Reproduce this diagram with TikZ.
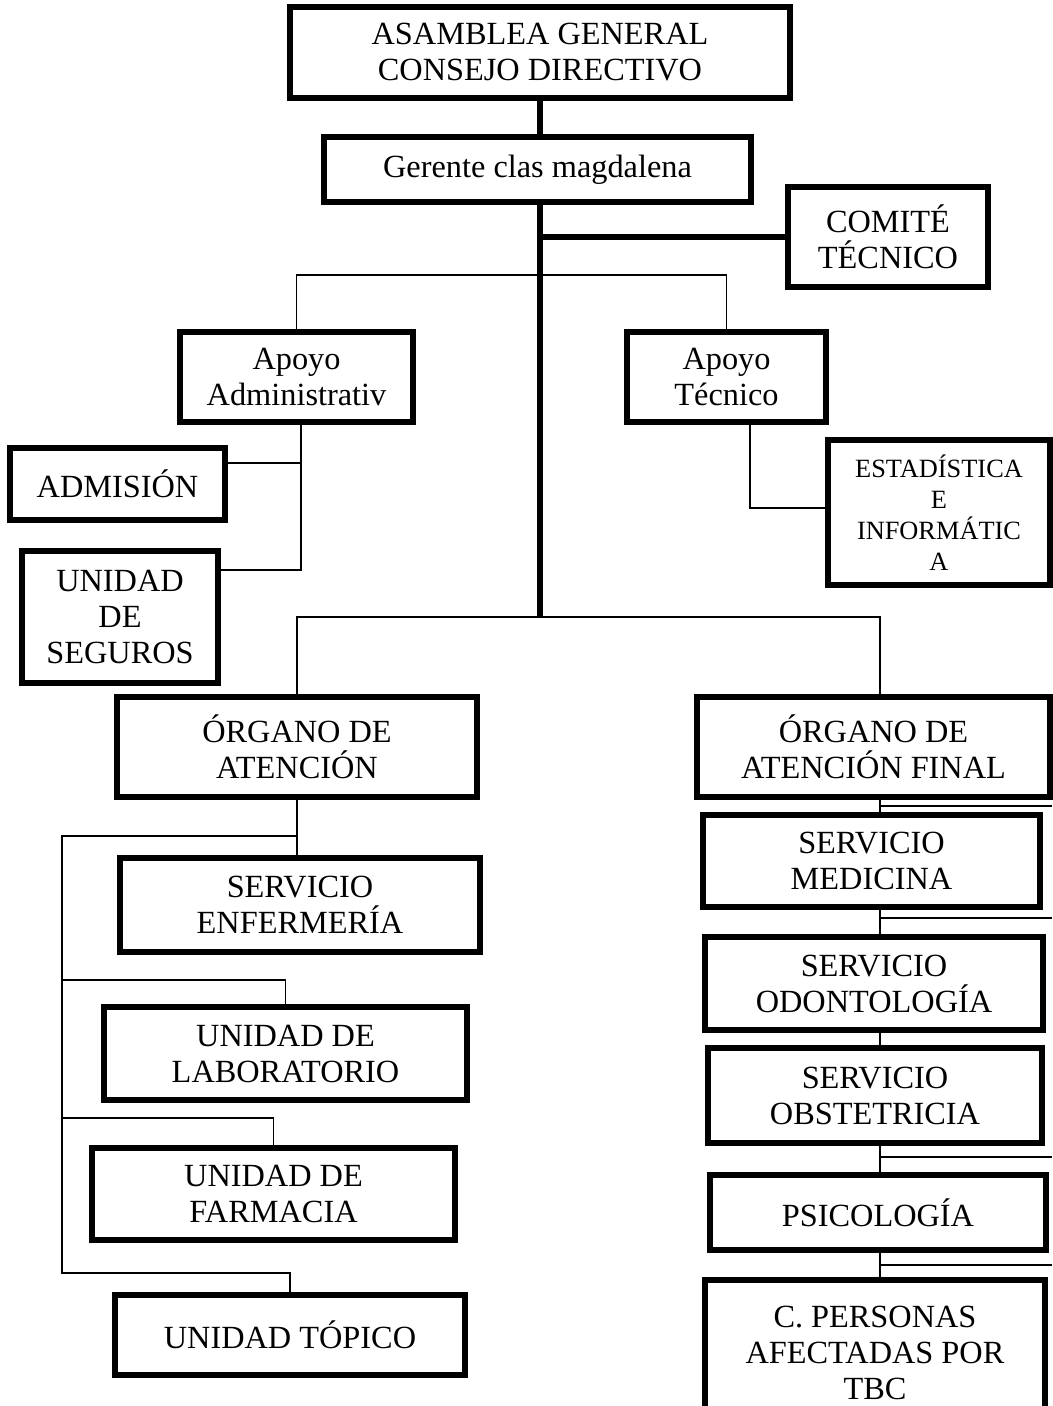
\documentclass[tikz,border=0pt]{standalone}
\usepackage{fontspec}
\setmainfont{Liberation Serif}
\usepackage{tikz}
\usetikzlibrary{calc}
\tikzset{box/.style={draw, line width=3pt, align=center, inner sep=0pt,
    font=\fontsize{18.4}{20.5}\selectfont},
  link/.style={draw, line width=0.9pt},
  trunk/.style={draw, line width=3pt}}

\begin{document}
\begin{tikzpicture}[x=0.02cm, y=-0.02cm]
  \useasboundingbox (0, 0) rectangle (1052, 1406);

  \node[box, minimum width=10cm,   minimum height=1.82cm] at (540, 52.5)  (asamblea) {ASAMBLEA GENERAL\\CONSEJO DIRECTIVO};
  \node[box, minimum width=8.54cm, minimum height=1.3cm]  at (537.5, 169.5) (gerente) {Gerente clas magdalena};
  \node[box, minimum width=4cm,    minimum height=2cm]    at (888, 237)   (comite) {COMITÉ\\TÉCNICO};

  \node[box, minimum width=4.66cm, minimum height=1.8cm]  at (296.5, 377) (apadm) {Apoyo\\Administrativ};
  \node[box, minimum width=3.98cm, minimum height=1.8cm]  at (726.5, 377) (aptec) {Apoyo\\Técnico};
  \node[box, minimum width=4.44cm, minimum height=2.9cm,
        font=\fontsize{15}{17.6}\selectfont]             at (939, 512.5) (estad) {ESTADÍSTICA\\E\\INFORMÁTIC\\A};
  \node[box, minimum width=4.3cm,  minimum height=1.44cm] at (117.5, 484) (admision) {ADMISIÓN};
  \node[box, minimum width=3.92cm, minimum height=2.64cm] at (120, 617)   (seguros) {UNIDAD\\DE\\SEGUROS};

  \node[box, minimum width=7.2cm,  minimum height=2cm]    at (297, 747)   (organo) {ÓRGANO DE\\ATENCIÓN};
  \node[box, minimum width=7.06cm, minimum height=2cm]    at (873.5, 747) (orgfinal) {ÓRGANO DE\\ATENCIÓN FINAL};

  \node[box, minimum width=7.2cm,  minimum height=1.88cm] at (300, 905)    (enfermeria) {SERVICIO\\ENFERMERÍA};
  \node[box, minimum width=7.26cm, minimum height=1.86cm] at (285.5, 1053.5) (laboratorio) {UNIDAD DE\\LABORATORIO};
  \node[box, minimum width=7.26cm, minimum height=1.84cm] at (273.5, 1194) (farmacia) {UNIDAD DE\\FARMACIA};
  \node[box, minimum width=7cm,    minimum height=1.6cm]  at (290, 1335)   (topico) {UNIDAD TÓPICO};

  \node[box, minimum width=6.74cm, minimum height=1.84cm] at (871.5, 861)  (medicina) {SERVICIO\\MEDICINA};
  \node[box, minimum width=6.76cm, minimum height=1.86cm] at (874, 983.5)  (odonto) {SERVICIO\\ODONTOLOGÍA};
  \node[box, minimum width=6.68cm, minimum height=1.9cm]  at (875, 1095.5) (obstetricia) {SERVICIO\\OBSTETRICIA};
  \node[box, minimum width=6.72cm, minimum height=1.5cm]  at (878, 1212.5) (psicologia) {PSICOLOGÍA};
  \node[box, minimum width=6.8cm,  minimum height=2.9cm]  at (875, 1352.5) (tbc) {C. PERSONAS\\AFECTADAS POR\\TBC};

  % junctions
  \coordinate (split) at (540, 617);
  \coordinate (ap) at (540, 275);
  \coordinate (s1) at (301, 570);
  \coordinate (s2) at (301, 463);
  \coordinate (t1) at (750, 508);
  \coordinate (c1) at (880, 617);
  \coordinate (l0) at (62, 836);
  \coordinate (l1) at (62, 980);
  \coordinate (l2) at (62, 1118);
  \coordinate (l3) at (62, 1273);
  \coordinate (r1) at (1052, 806);
  \coordinate (r2) at (1052, 918);
  \coordinate (r3) at (1052, 1157);
  \coordinate (r4) at (1052, 1265);

  \draw[trunk] (asamblea.south) -- (asamblea.south |- gerente.north);
  \draw[trunk] (gerente.south -| split) -- (split);
  \draw[trunk] (split |- comite.west) -- (comite.west);

  \draw[link] (apadm.north) |- (ap) -| (aptec.north);
  \draw[link] (apadm.south -| s1) -- (s1) -- (s1 -| seguros.east);
  \draw[link] (admision.east |- s2) -- (s2);
  \draw[link] (aptec.south -| t1) -- (t1) -- (t1 -| estad.west);

  \draw[link] (organo.north) |- (split) -- (c1) -- (c1 |- orgfinal.north);

  \draw[link] (organo.south) -- (organo.south |- enfermeria.north);
  \draw[link] (organo.south |- l0) -- (l0) -- (l3) -| (topico.north);
  \draw[link] (l1) -| (laboratorio.north);
  \draw[link] (l2) -| (farmacia.north);

  \draw[link] (c1 |- orgfinal.south) -- (c1 |- medicina.north);
  \draw[link] (c1 |- medicina.south) -- (c1 |- odonto.north);
  \draw[link] (c1 |- odonto.south) -- (c1 |- obstetricia.north);
  \draw[link] (c1 |- obstetricia.south) -- (c1 |- psicologia.north);
  \draw[link] (c1 |- psicologia.south) -- (c1 |- tbc.north);
  \draw[link] (c1 |- r1) -- (r1);
  \draw[link] (c1 |- r2) -- (r2);
  \draw[link] (c1 |- r3) -- (r3);
  \draw[link] (c1 |- r4) -- (r4);
\end{tikzpicture}
\end{document}
